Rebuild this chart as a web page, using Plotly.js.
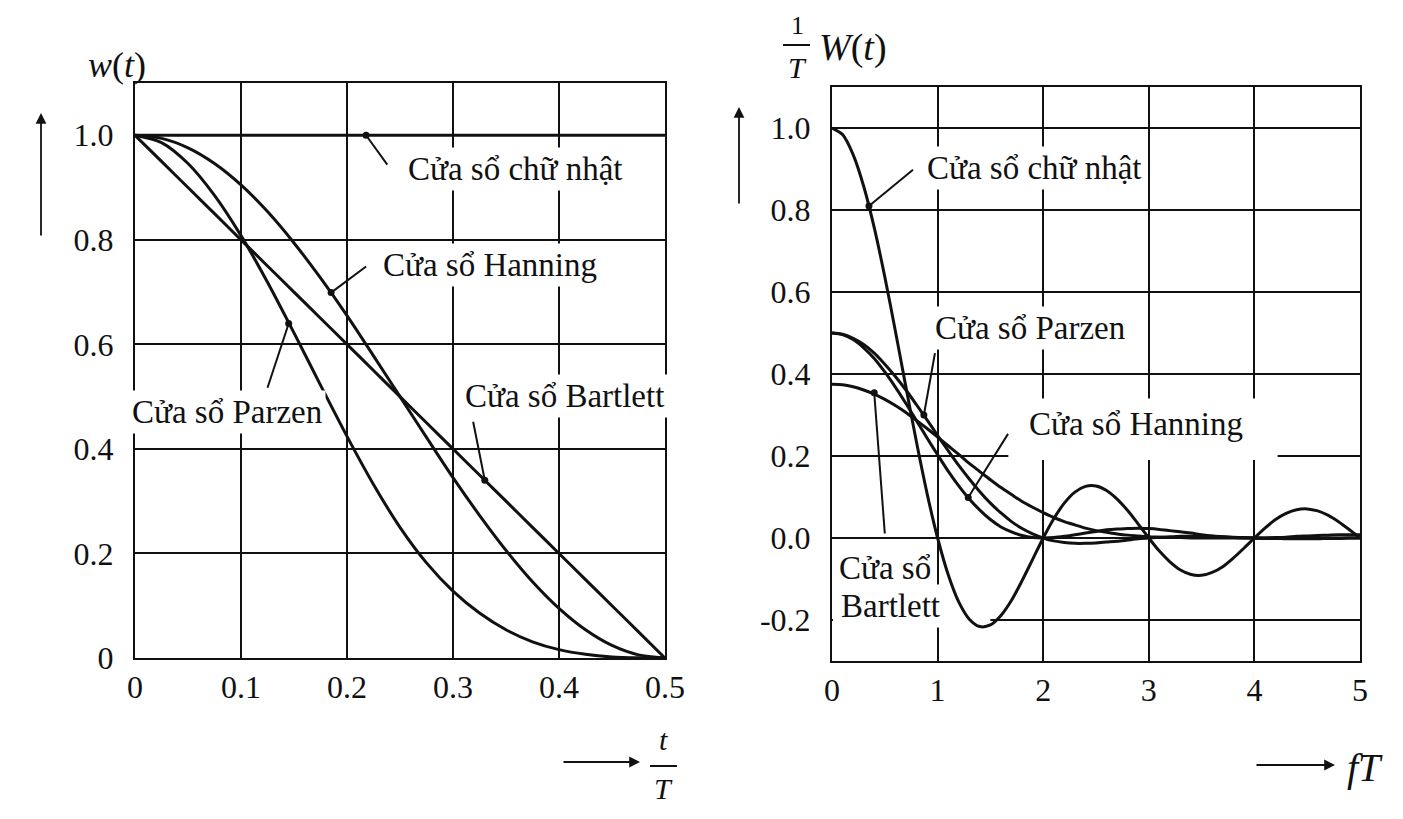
<!DOCTYPE html>
<html>
<head>
<meta charset="utf-8">
<script src="https://cdn.plot.ly/plotly-3.0.1.min.js"></script>
<style>html,body{margin:0;padding:0;background:#fff;}#chart{width:1403px;height:819px;}</style>
</head>
<body>
<div id="chart"></div>
<script>
// ---- Left panel: time windows w(t) vs t/T ----
const tLeft = [0,0.025,0.05,0.075,0.1,0.125,0.15,0.175,0.2,0.225,0.25,0.275,0.3,0.325,0.35,0.375,0.4,0.425,0.45,0.475,0.5];
const rectLeft = [1,1,1,1,1,1,1,1,1,1,1,1,1,1,1,1,1,1,1,1,1];
const bartlettLeft = [1,0.95,0.9,0.85,0.8,0.75,0.7,0.65,0.6,0.55,0.5,0.45,0.4,0.35,0.3,0.25,0.2,0.15,0.1,0.05,0];
const hanningLeft = [1,0.994,0.976,0.946,0.905,0.854,0.794,0.727,0.655,0.578,0.5,0.422,0.345,0.273,0.206,0.146,0.095,0.054,0.024,0.006,0];
const parzenLeft = [1,0.986,0.946,0.885,0.808,0.719,0.622,0.522,0.424,0.332,0.25,0.182,0.128,0.086,0.054,0.031,0.016,0.007,0.002,0.0003,0];

// ---- Right panel: spectra (1/T)W vs fT ----
const fT = [0,0.1,0.2,0.3,0.4,0.5,0.6,0.7,0.8,0.9,1,1.1,1.2,1.3,1.4,1.5,1.6,1.7,1.8,1.9,2,2.1,2.2,2.3,2.4,2.5,2.6,2.7,2.8,2.9,3,3.1,3.2,3.3,3.4,3.5,3.6,3.7,3.8,3.9,4,4.1,4.2,4.3,4.4,4.5,4.6,4.7,4.8,4.9,5];
const rectSpec = [1,0.984,0.935,0.858,0.757,0.637,0.505,0.368,0.234,0.109,0,-0.089,-0.156,-0.198,-0.216,-0.212,-0.189,-0.152,-0.104,-0.052,0,0.047,0.085,0.112,0.126,0.127,0.116,0.095,0.067,0.034,0,-0.032,-0.058,-0.078,-0.089,-0.091,-0.084,-0.070,-0.049,-0.025,0,0.024,0.045,0.060,0.069,0.071,0.066,0.055,0.039,0.020,0];
const triSpec = [0.5,0.496,0.484,0.464,0.438,0.405,0.368,0.328,0.286,0.244,0.203,0.163,0.127,0.095,0.068,0.045,0.027,0.015,0.006,0.001,0,0.001,0.004,0.008,0.012,0.016,0.020,0.022,0.023,0.024,0.023,0.021,0.018,0.015,0.012,0.008,0.005,0.003,0.001,0.0003,0,0.0003,0.001,0.002,0.004,0.005,0.006,0.007,0.008,0.008,0.008];
const hannSpec = [0.5,0.497,0.487,0.472,0.451,0.424,0.394,0.361,0.325,0.288,0.25,0.213,0.177,0.144,0.113,0.085,0.061,0.040,0.023,0.010,0,-0.007,-0.011,-0.013,-0.013,-0.012,-0.010,-0.008,-0.005,-0.002,0,0.002,0.003,0.004,0.004,0.004,0.004,0.003,0.002,0.001,0,-0.001,-0.001,-0.002,-0.002,-0.002,-0.002,-0.001,-0.001,0,0];
const parzSpec = [0.375,0.374,0.369,0.361,0.351,0.338,0.323,0.306,0.287,0.267,0.246,0.225,0.204,0.182,0.162,0.142,0.123,0.106,0.089,0.075,0.062,0.050,0.040,0.032,0.024,0.018,0.014,0.010,0.007,0.005,0.003,0.002,0.001,0.001,0.0003,0.0001,0,0,0,0,0,0,0,0,0,0,0,0,0,0,0];

// tick labels
const xTicksLeft = [0,0.1,0.2,0.3,0.4,0.5];
const xTickTextLeft = ["0","0.1","0.2","0.3","0.4","0.5"];
const yTicksLeft = [0,0.2,0.4,0.6,0.8,1.0];
const yTickTextLeft = ["0","0.2","0.4","0.6","0.8","1.0"];
const xTicksRight = [0,1,2,3,4,5];
const xTickTextRight = ["0","1","2","3","4","5"];
const yTicksRight = [-0.2,0,0.2,0.4,0.6,0.8,1.0];
const yTickTextRight = ["-0.2","0.0","0.2","0.4","0.6","0.8","1.0"];

const INK = '#111';
const FONT = 'Liberation Serif, Times New Roman, serif';
const W = 1403, H = 819;
const px = v => v / W;
const py = v => 1 - v / H;

function curve(x, y, xa, ya) {
  return {x: x, y: y, xaxis: xa, yaxis: ya, type: 'scatter', mode: 'lines',
          line: {color: INK, width: 3, shape: 'spline', smoothing: 0.8},
          hoverinfo: 'skip', showlegend: false};
}
const data = [
  curve(tLeft, rectLeft, 'x', 'y'),
  curve(tLeft, bartlettLeft, 'x', 'y'),
  curve(tLeft, hanningLeft, 'x', 'y'),
  curve(tLeft, parzenLeft, 'x', 'y'),
  curve(fT, rectSpec, 'x2', 'y2'),
  curve(fT, triSpec, 'x2', 'y2'),
  curve(fT, hannSpec, 'x2', 'y2'),
  curve(fT, parzSpec, 'x2', 'y2')
];

function axisBase() {
  return {showgrid: true, gridcolor: INK, gridwidth: 2, showline: true, mirror: true,
          linecolor: INK, linewidth: 2, zeroline: false, ticks: '', automargin: false,
          tickfont: {family: FONT, size: 32, color: INK}, fixedrange: true};
}
const layout = {
  width: W, height: H,
  margin: {l: 0, r: 0, t: 0, b: 0},
  paper_bgcolor: '#fff', plot_bgcolor: '#fff',
  showlegend: false,
  xaxis: Object.assign(axisBase(), {domain: [px(135), px(665)], range: [0, 0.5], tickmode: 'array',
          tickvals: xTicksLeft, ticktext: xTickTextLeft, anchor: 'y', ticklabelstandoff: 0}),
  yaxis: Object.assign(axisBase(), {domain: [1 - 658 / H, 1 - 83 / H], range: [0, 1.1], tickmode: 'array',
          tickvals: yTicksLeft, ticktext: yTickTextLeft, anchor: 'x', ticklabelstandoff: 13}),
  xaxis2: Object.assign(axisBase(), {domain: [px(832), px(1360)], range: [0, 5], tickmode: 'array',
          tickvals: xTicksRight, ticktext: xTickTextRight, anchor: 'y2', ticklabelstandoff: 0}),
  yaxis2: Object.assign(axisBase(), {domain: [1 - 661 / H, 1 - 87 / H], range: [-0.3, 1.1], tickmode: 'array',
          tickvals: yTicksRight, ticktext: yTickTextRight, anchor: 'x2', ticklabelstandoff: 13}),
  annotations: [],
  shapes: []
};

function label(text, x, y, xr, yr, xanchor, bg) {
  layout.annotations.push({text: text, x: x, y: y, xref: xr, yref: yr, xanchor: xanchor, yanchor: 'middle',
    showarrow: false, font: {family: FONT, size: 33, color: INK},
    bgcolor: bg === false ? 'rgba(0,0,0,0)' : '#fff', borderpad: 3});
}
function leader(x0, y0, x1, y1, xr, yr) {
  layout.shapes.push({type: 'line', xref: xr, yref: yr, x0: x0, y0: y0, x1: x1, y1: y1,
    line: {color: INK, width: 2}});
  layout.shapes.push({type: 'circle', xref: xr, yref: yr, xsizemode: 'pixel', ysizemode: 'pixel',
    xanchor: x0, yanchor: y0, x0: -3.5, x1: 3.5, y0: -3.5, y1: 3.5,
    fillcolor: INK, line: {color: INK, width: 0}});
}
function mask(x0, x1, y0, y1, xr, yr) {
  layout.shapes.push({type: 'rect', xref: xr, yref: yr, x0: x0, x1: x1, y0: y0, y1: y1,
    fillcolor: '#fff', line: {width: 0}, layer: 'between'});
}
function ptext(text, x, y, size) {
  layout.annotations.push({text: text, x: px(x), y: py(y), xref: 'paper', yref: 'paper',
    xanchor: 'center', yanchor: 'middle', showarrow: false,
    font: {family: FONT, size: size, color: INK}});
}
function parrow(xh, yh, ax, ay) {
  layout.annotations.push({text: '', x: px(xh), y: py(yh), xref: 'paper', yref: 'paper',
    ax: ax, ay: ay, showarrow: true, arrowhead: 2, arrowsize: 1.2, arrowwidth: 1.8, arrowcolor: INK});
}
function pline(x0, y0, x1, y1) {
  layout.shapes.push({type: 'line', xref: 'paper', yref: 'paper', x0: px(x0), y0: py(y0), x1: px(x1), y1: py(y1),
    line: {color: INK, width: 2}});
}

// left panel labels
label('Cửa sổ chữ nhật', 0.254, 0.935, 'x', 'y', 'left');
label('Cửa sổ Hanning', 0.230, 0.751, 'x', 'y', 'left');
label('Cửa sổ Parzen', 0.087, 0.471, 'x', 'y', 'center');
label('Cửa sổ Bartlett', 0.308, 0.502, 'x', 'y', 'left');
leader(0.218, 1.0, 0.238, 0.944, 'x', 'y');
leader(0.185, 0.699, 0.218, 0.749, 'x', 'y');
leader(0.145, 0.64, 0.125, 0.517, 'x', 'y');
leader(0.33, 0.34, 0.319, 0.452, 'x', 'y');

// right panel labels
mask(1.67, 4.22, 0.19, 0.34, 'x2', 'y2');
mask(0.01, 1.5, -0.21, -0.19, 'x2', 'y2');
label('Cửa sổ chữ nhật', 0.862, 0.903, 'x2', 'y2', 'left');
label('Cửa sổ Parzen', 0.9375, 0.512, 'x2', 'y2', 'left');
label('Cửa sổ Hanning', 1.828, 0.278, 'x2', 'y2', 'left', false);
label('Cửa sổ', 0.50, -0.074, 'x2', 'y2', 'center');
label('Bartlett', 0.55, -0.166, 'x2', 'y2', 'center');
leader(0.35, 0.81, 0.767, 0.898, 'x2', 'y2');
leader(0.87, 0.30, 0.975, 0.451, 'x2', 'y2');
leader(1.29, 0.099, 1.667, 0.254, 'x2', 'y2');
leader(0.40, 0.354, 0.50, 0.011, 'x2', 'y2');

// axis titles
ptext('<i>w</i>(<i>t</i>)', 117, 65, 36);
ptext('1', 797, 25, 26);
pline(783, 45, 810, 45);
ptext('<i>T</i>', 797, 67, 30);
ptext('<i>W</i>(<i>t</i>)', 853, 47, 38);
ptext('<i>t</i>', 663, 739, 30);
pline(650, 766, 677, 766);
ptext('<i>T</i>', 663, 788, 30);
ptext('<i>fT</i>', 1365, 767, 40);
parrow(41, 113, 0, 124);
parrow(739, 107, 0, 98);
parrow(640, 762, -78, 0);
parrow(1335, 765, -80, 0);

Plotly.newPlot('chart', data, layout, {displayModeBar: false, staticPlot: true});
</script>
</body>
</html>
